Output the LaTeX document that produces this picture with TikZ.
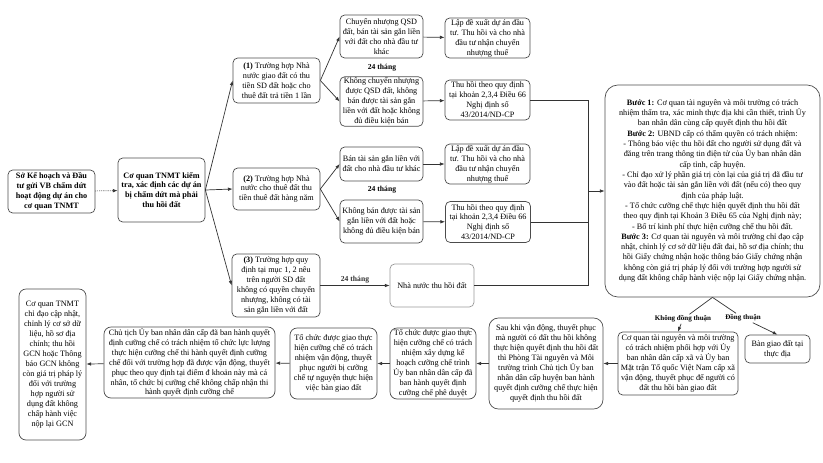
\documentclass[tikz,border=0pt]{standalone}
\usepackage{fontspec}
\setmainfont{Liberation Serif}
\usetikzlibrary{arrows.meta}

\begin{document}
\begin{tikzpicture}[x=0.03cm,y=-0.03cm,
    box/.style={draw=black!70,line width=0.6pt,rounded corners=4pt,align=center,
      inner sep=1pt,font=\fontsize{7}{8.5}\selectfont},
    bbox/.style={box,font=\bfseries\fontsize{7}{8.5}\selectfont},
    sz/.style 2 args={minimum width=#1*0.03cm,minimum height=#2*0.03cm},
    tag/.style={font=\bfseries\fontsize{6.5}{7}\selectfont,inner sep=1pt},
    arr/.style={-{Latex[length=4pt,width=3pt]},line width=0.6pt,black!80},
    ln/.style={line width=0.6pt,black!80}]
      \useasboundingbox (0,0) rectangle (823,462);
      % left column
      \node[bbox,sz={87}{43}] (sokh) at (51.5,191.5) {Sở Kế hoạch và Đầu\\tư gửi VB chấm dứt\\hoạt động dự án cho\\cơ quan TNMT};
      \node[bbox,sz={87}{64}] (tnmt) at (161.5,190) {Cơ quan TNMT kiểm\\tra, xác định các dự án\\bị chấm dứt mà phải\\thu hồi đất};
      % three cases
      \node[box,sz={87}{45}] (th1) at (276.5,80.5) {\textbf{(1)} Trường hợp Nhà\\nước giao đất có thu\\tiền SD đất hoặc cho\\thuê đất trả tiền 1 lần};
      \node[box,sz={87}{42}] (th2) at (276.5,189) {\textbf{(2)} Trường hợp Nhà\\nước cho thuê đất thu\\tiền thuê đất hàng năm};
      \node[box,sz={88}{63}] (th3) at (276,285.5) {\textbf{(3)} Trường hợp quy\\định tại mục 1, 2 nêu\\trên người SD đất\\không có quyền chuyển\\nhượng, không có tài\\sản gắn liền với đất};
      % case 1
      \node[box,sz={83}{43}] (cn1) at (381.5,36.5) {Chuyển nhượng QSD\\đất, bán tài sản gắn liền\\với đất cho nhà đầu tư\\khác};
      \node[tag] (t1) at (382,68) {24 tháng};
      \node[box,sz={83}{47}] (kcn1) at (381.5,101.5) {Không chuyển nhượng\\được QSD đất, không\\bán được tài sản gắn\\liền với đất hoặc không\\đủ điều kiện bán};
      \node[box,sz={85}{40}] (lap1) at (487.5,38) {Lập đề xuất dự án đầu\\tư. Thu hồi và cho nhà\\đầu tư nhận chuyển\\nhượng thuế};
      \node[box,sz={85}{40}] (thu1) at (487.5,100) {Thu hồi theo quy định\\tại khoản 2,3,4 Điều 66\\Nghị định số\\43/2014/ND-CP};
      % case 2
      \node[box,sz={83}{34}] (ban2) at (381.5,164) {Bán tài sản gắn liền với\\đất cho nhà đầu tư khác};
      \node[tag] (t2) at (382,190) {24 tháng};
      \node[box,sz={83}{43}] (kban2) at (381.5,221.5) {Không bán được tài sản\\gắn liền với đất hoặc\\không đủ điều kiện bán};
      \node[box,sz={85}{38}] (lap2) at (487.5,164) {Lập đề xuất dự án đầu\\tư. Thu hồi và cho nhà\\đầu tư nhận chuyển\\nhượng thuế};
      \node[box,sz={85}{41}] (thu2) at (488,222) {Thu hồi theo quy định\\tại khoản 2,3,4 Điều 66\\Nghị định số\\43/2014/ND-CP};
      % case 3
      \node[box,draw=black!40,sz={84}{43}] (nnth) at (432,285.5) {Nhà nước thu hồi đất};
      % steps
      \node[box,rounded corners=11pt,sz={215}{212},font=\fontsize{7}{8.8}\selectfont] (big) at (712.5,191) {\textbf{Bước 1:} Cơ quan tài nguyên và môi trường có trách\\nhiệm thẩm tra, xác minh thực địa khi cần thiết, trình Ủy\\ban nhân dân cùng cấp quyết định thu hồi đất\\\textbf{Bước 2:} UBND cấp có thẩm quyền có trách nhiệm:\\- Thông báo việc thu hồi đất cho người sử dụng đất và\\đăng trên trang thông tin điện tử của Ủy ban nhân dân\\cấp tỉnh, cấp huyện.\\- Chỉ đạo xử lý phần giá trị còn lại của giá trị đã đầu tư\\vào đất hoặc tài sản gắn liền với đất (nếu có) theo quy\\định của pháp luật.\\- Tổ chức cưỡng chế thực hiện quyết định thu hồi đất\\theo quy định tại Khoản 3 Điều 65 của Nghị định này;\\- Bố trí kinh phí thực hiện cưỡng chế thu hồi đất.\\\textbf{Bước 3:} Cơ quan tài nguyên và môi trường chỉ đạo cập\\nhật, chỉnh lý cơ sở dữ liệu đất đai, hồ sơ địa chính; thu\\hồi Giấy chứng nhận hoặc thông báo Giấy chứng nhận\\không còn giá trị pháp lý đối với trường hợp người sử\\dụng đất không chấp hành việc nộp lại Giấy chứng nhận.};
      \node[tag,font=\bfseries\fontsize{6}{7}\selectfont] (khong) at (683,319) {Không đồng thuận};
      \node[tag,font=\bfseries\fontsize{6}{7}\selectfont] (dong) at (743,318) {Đồng thuận};
      \node[box,sz={120}{63}] (cqtn) at (678,363.5) {Cơ quan tài nguyên và môi trường\\có trách nhiệm phối hợp với Ủy\\ban nhân dân cấp xã và Ủy ban\\Mặt trận Tổ quốc Việt Nam cấp xã\\vận động, thuyết phục để người có\\đất thu hồi bàn giao đất};
      \node[box,sz={65}{28}] (bangiao) at (777.5,349) {Bàn giao đất tại\\thực địa};
      % bottom row
      \node[box,rounded corners=8pt,sz={114}{91}] (sau) at (546,363.5) {Sau khi vận động, thuyết phục\\mà người có đất thu hồi không\\thực hiện quyết định thu hồi đất\\thì Phòng Tài nguyên và Môi\\trường trình Chủ tịch Ủy ban\\nhân dân cấp huyện ban hành\\quyết định cưỡng chế thực hiện\\quyết định thu hồi đất};
      \node[box,rounded corners=6pt,sz={86}{71}] (kh) at (433,363.5) {Tổ chức được giao thực\\hiện cưỡng chế có trách\\nhiệm xây dựng kế\\hoạch cưỡng chế trình\\Ủy ban nhân dân cấp đã\\ban hành quyết định\\cưỡng chế phê duyệt};
      \node[box,rounded corners=6pt,sz={87}{71}] (vd) at (333.5,363.5) {Tổ chức được giao thực\\hiện cưỡng chế có trách\\nhiệm vận động, thuyết\\phục người bị cưỡng\\chế tự nguyện thực hiện\\việc bàn giao đất};
      \node[box,rounded corners=6pt,sz={171}{71}] (ct) at (189.5,362.5) {Chủ tịch Ủy ban nhân dân cấp đã ban hành quyết\\định cưỡng chế có trách nhiệm tổ chức lực lượng\\thực hiện cưỡng chế thi hành quyết định cưỡng\\chế đối với trường hợp đã được vận động, thuyết\\phục theo quy định tại điểm đ khoản này mà cá\\nhân, tổ chức bị cưỡng chế không chấp nhận thi\\hành quyết định cưỡng chế};
      \node[box,rounded corners=6pt,sz={67}{151}] (gcn) at (52.5,364.5) {Cơ quan TNMT\\chỉ đạo cập nhật,\\chỉnh lý cơ sở dữ\\liệu, hồ sơ địa\\chính; thu hồi\\GCN hoặc Thông\\báo GCN không\\còn giá trị pháp lý\\đối với trường\\hợp người sử\\dụng đất không\\chấp hành việc\\nộp lại GCN};
      % connectors
      \draw[arr,densely dotted] (sokh) -- (tnmt);
      \draw[arr] (tnmt.east) -- (th1.west);
      \draw[arr] (tnmt.east) -- (th2.west);
      \draw[arr] (tnmt.east) -- (th3.west);
      \draw[arr] (th1.east) -- (cn1.west);
      \draw[arr] (th1.east) -- (kcn1.west);
      \draw[arr] (th2.east) -- (ban2.west);
      \draw[arr] (th2.east) -- (kban2.west);
      \draw[arr] (cn1) -- (lap1);
      \draw[arr] (kcn1) -- (thu1);
      \draw[arr] (ban2) -- (lap2);
      \draw[arr] (kban2) -- (thu2);
      \draw[arr] (th3) -- node[tag,above=1pt] {24 tháng} (nnth);
      \coordinate (bus) at (588,191);
      \draw[ln] (thu1.east) -| (bus) |- (nnth.east);
      \draw[ln] (thu2.east) -- (thu2.east -| bus);
      \draw[arr] (bus) -- (big.west);
      \draw[ln] (big.south) -- (khong);
      \draw[arr] (khong) -- (cqtn.north);
      \draw[ln] (big.south) -- (dong);
      \draw[arr] (dong) -- (bangiao.north);
      \draw[arr] (cqtn) -- (sau);
      \draw[arr] (sau) -- (kh);
      \draw[arr] (kh) -- (vd);
      \draw[arr] (vd) -- (ct);
      \draw[arr] (ct) -- (gcn);
    \end{tikzpicture}
\end{document}
